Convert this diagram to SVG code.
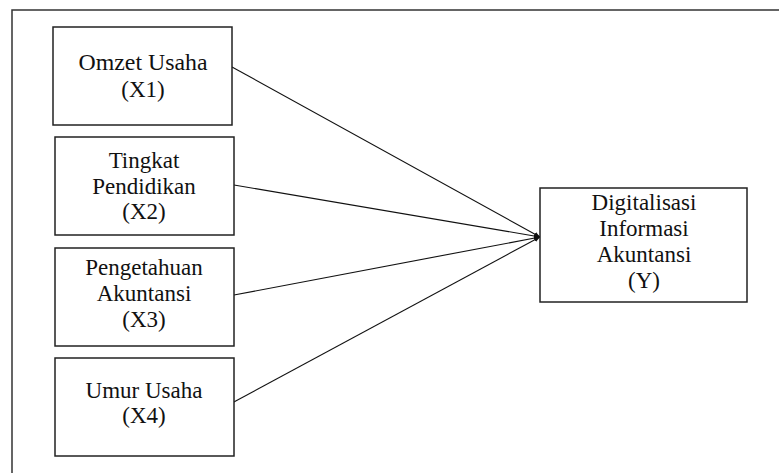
<svg xmlns="http://www.w3.org/2000/svg" width="779" height="473" viewBox="0 0 779 473">
<style>
.box{fill:#fff;stroke:#222;stroke-width:1.5}
.t{font-family:'Liberation Serif',serif;font-size:23px;fill:#111;text-anchor:middle}
.c{stroke:#111;stroke-width:1.1;fill:none;marker-end:url(#ah)}
.frame{fill:none;stroke:#333;stroke-width:1.5}
</style>
<defs>
<marker id="ah" viewBox="0 0 10 10" refX="10" refY="5" markerWidth="6" markerHeight="6" orient="auto" markerUnits="userSpaceOnUse">
<path d="M0,1 L10,5 L0,9 z" fill="#111"/>
</marker>
</defs>
<rect width="779" height="473" fill="#fff"/>
<path class="frame" d="M12,473 L12,10 L779,10"/>
<g id="connectors">
<line class="c" x1="232" y1="67" x2="540" y2="237"/>
<line class="c" x1="234" y1="185" x2="540" y2="237"/>
<line class="c" x1="234" y1="295" x2="540" y2="237"/>
<line class="c" x1="232" y1="403" x2="540" y2="237"/>
</g>
<g id="x1">
<rect class="box" x="53" y="27" width="179" height="98"/>
<text class="t" x="143" y="70" textLength="129" lengthAdjust="spacingAndGlyphs">Omzet Usaha</text>
<text class="t" x="143" y="97">(X1)</text>
</g>
<g id="x2">
<rect class="box" x="55" y="137" width="179" height="98"/>
<text class="t" x="144" y="168">Tingkat</text>
<text class="t" x="144" y="194">Pendidikan</text>
<text class="t" x="144" y="219">(X2)</text>
</g>
<g id="x3">
<rect class="box" x="55" y="248" width="179" height="98"/>
<text class="t" x="144" y="275">Pengetahuan</text>
<text class="t" x="144" y="301">Akuntansi</text>
<text class="t" x="144" y="327">(X3)</text>
</g>
<g id="x4">
<rect class="box" x="55" y="358" width="179" height="98"/>
<text class="t" x="144" y="398">Umur Usaha</text>
<text class="t" x="144" y="423">(X4)</text>
</g>
<g id="y">
<rect class="box" x="540" y="188" width="207" height="114"/>
<text class="t" x="644" y="210">Digitalisasi</text>
<text class="t" x="644" y="236">Informasi</text>
<text class="t" x="644" y="262">Akuntansi</text>
<text class="t" x="644" y="288">(Y)</text>
</g>
</svg>
